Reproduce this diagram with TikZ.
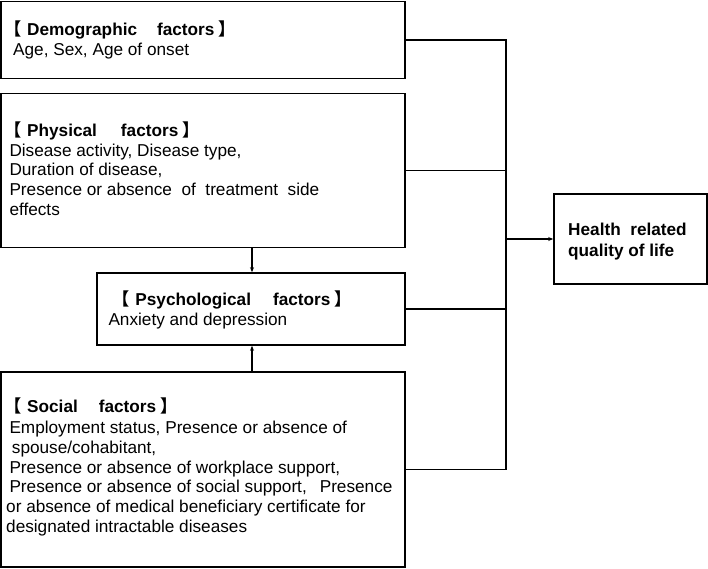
\documentclass[tikz,border=0pt]{standalone}
\usepackage{fontspec}
\setmainfont{Liberation Sans}
\newfontfamily\cjk{Noto Sans CJK JP}
\usetikzlibrary{arrows.meta}
\newcommand\facthead[2]{\kern-9pt{\cjk\bfseries 【}\kern5.3pt\textbf{#1}\hspace{#2}\textbf{factors}\kern4pt{\cjk\bfseries 】}}
\begin{document}
\begin{tikzpicture}[x=1pt,y=-1pt,
  box/.style={draw, line width=1.6pt, inner sep=0pt, rectangle},
  txt/.style={anchor=base west, align=left, inner sep=0pt, font=\fontsize{17.2}{19.8}\selectfont},
  link/.style={line width=1.6pt},
  arr/.style={line width=1.6pt, -{Stealth[length=5pt,width=4pt]}}]
\useasboundingbox (0,0) rectangle (708,568);
% boxes
\node[box, minimum width=404pt, minimum height=77pt] (demo) at (203,40) {};
\node[box, minimum width=404pt, minimum height=154pt] (phys) at (203,170.5) {};
\node[box, minimum width=308pt, minimum height=72pt] (psych) at (251,309) {};
\node[box, minimum width=404pt, minimum height=195pt] (soc) at (203,469.5) {};
\node[box, minimum width=153pt, minimum height=90pt] (hrqol) at (630.5,239) {};
% texts (anchor = baseline of the last line)
\node[txt] (demoT) at (13,55) {\hspace*{0.5pt}\facthead{Demographic}{20pt}\\Age, Sex, Age of onset};
\node[txt] (physT) at (9.3,215.5) {\hspace*{4.2pt}\facthead{Physical}{24pt}\\Disease activity, Disease type,\\Duration of disease,\\Presence or absence\ \ of\ \ treatment\ \ side\\effects};
\node[txt] (psychT) at (108.3,325) {\hspace*{13.4pt}\facthead{Psychological}{22pt}\\Anxiety and depression};
\node[txt] (socT) at (6,532.5) {\hspace*{7.5pt}\facthead{Social}{21pt}\\[1pt]\hspace*{3.3pt}Employment status, Presence or absence of\\\hspace*{5.7pt}spouse/cohabitant,\\\hspace*{3.3pt}Presence or absence of workplace support,\\\hspace*{3.3pt}Presence or absence of social support,\hspace*{13pt}Presence\\or absence of medical beneficiary certificate for\\designated intractable diseases};
\node[txt, font=\fontsize{17.2}{21}\selectfont\bfseries] (hrqolT) at (568,256) {Health\ \ related\\quality of life};
% connectors
\coordinate (bm) at (506,239);
\draw[link] (demo.east) -- (demo.east -| bm) -- (soc.east -| bm) -- (soc.east);
\draw[link] (phys.east) -- (phys.east -| bm);
\draw[link] (psych.east) -- (psych.east -| bm);
\draw[arr] (bm) -- (hrqol.west);
\draw[arr] (phys.south -| 252,0) -- (psych.north -| 252,0);
\draw[arr] (soc.north -| 252,0) -- (psych.south -| 252,0);
\end{tikzpicture}
\end{document}
